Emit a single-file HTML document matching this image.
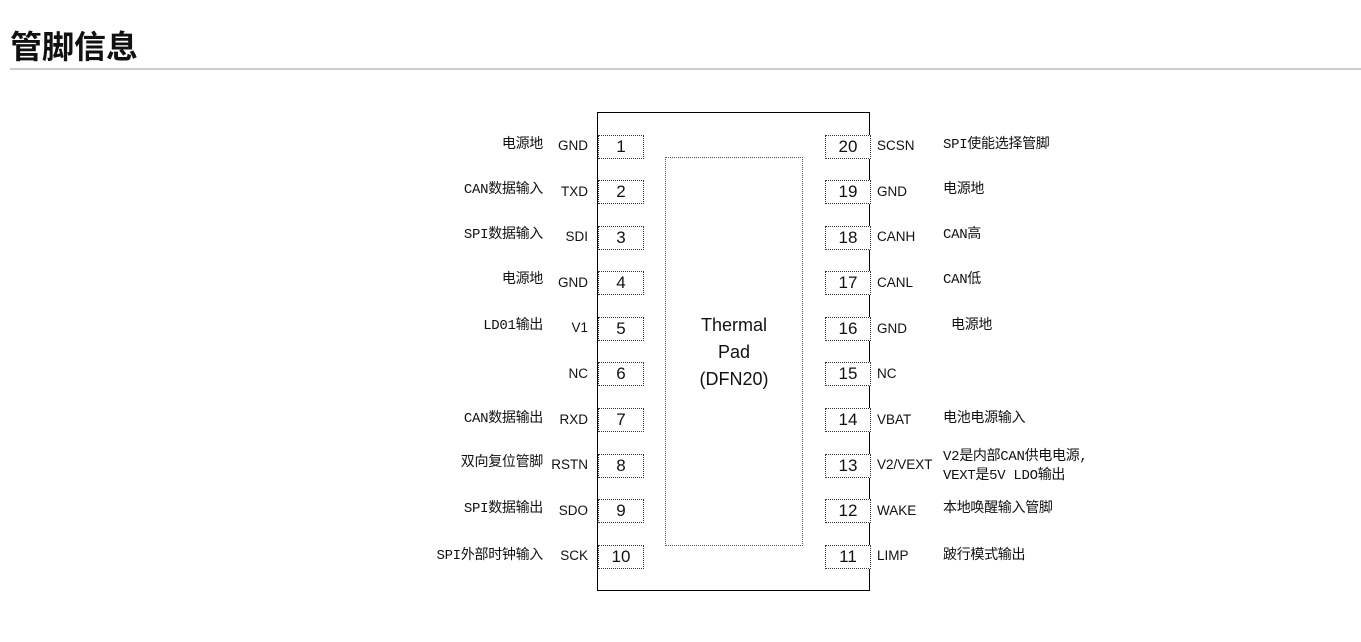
<!DOCTYPE html>
<html><head><meta charset="utf-8"><style>
body{margin:0;width:1361px;height:642px;background:#fff;position:relative;overflow:hidden;font-family:"Liberation Sans","Noto Sans CJK SC",sans-serif;color:#111}
.t{position:absolute;left:10px;top:29px;font-size:32px;font-weight:bold;line-height:36px;font-family:"Liberation Sans","Noto Sans CJK SC",sans-serif}
.hr{position:absolute;left:10px;top:68px;width:1351px;height:2px;background:#ccc}
.chip{position:absolute;left:597px;top:112px;width:271px;height:477px;border:1.5px solid #000}
.pad{position:absolute;left:665px;top:157px;width:136px;height:387px;border:1px dotted #555}
.pt{position:absolute;left:665px;top:312px;width:138px;text-align:center;font-size:18px;line-height:27px}
.b{position:absolute;width:44px;height:22px;border:1px dotted #333;background:#fff;text-align:center;font-size:17px;line-height:22px}
.l{left:598px}.r{left:825px}
.n{position:absolute;font-size:13.5px;line-height:16px;white-space:nowrap}
.d{font-family:"Liberation Mono","Noto Sans CJK SC",monospace;font-size:14px;letter-spacing:-0.3px}
.nl{right:773px;text-align:right}
.dl{right:818px;text-align:right}
.nr{left:877px}.dr{left:943px}
</style></head><body>
<div class="t">管脚信息</div><div class="hr"></div>
<div class="chip"></div><div class="pad"></div>
<div class="pt">Thermal<br>Pad<br>(DFN20)</div>

<div class="b l" style="top:135px">1</div><div class="n nl" style="top:138px">GND</div><div class="n d dl" style="top:137px">电源地</div>
<div class="b l" style="top:180px">2</div><div class="n nl" style="top:184px">TXD</div><div class="n d dl" style="top:182px">CAN数据输入</div>
<div class="b l" style="top:226px">3</div><div class="n nl" style="top:229px">SDI</div><div class="n d dl" style="top:227px">SPI数据输入</div>
<div class="b l" style="top:271px">4</div><div class="n nl" style="top:275px">GND</div><div class="n d dl" style="top:272px">电源地</div>
<div class="b l" style="top:317px">5</div><div class="n nl" style="top:320px">V1</div><div class="n d dl" style="top:318px">LD01输出</div>
<div class="b l" style="top:362px">6</div><div class="n nl" style="top:366px">NC</div>
<div class="b l" style="top:408px">7</div><div class="n nl" style="top:412px">RXD</div><div class="n d dl" style="top:411px">CAN数据输出</div>
<div class="b l" style="top:454px">8</div><div class="n nl" style="top:457px">RSTN</div><div class="n d dl" style="top:455px">双向复位管脚</div>
<div class="b l" style="top:499px">9</div><div class="n nl" style="top:503px">SDO</div><div class="n d dl" style="top:501px">SPI数据输出</div>
<div class="b l" style="top:545px">10</div><div class="n nl" style="top:548px">SCK</div><div class="n d dl" style="top:548px">SPI外部时钟输入</div>

<div class="b r" style="top:135px">20</div><div class="n nr" style="top:138px">SCSN</div><div class="n d dr" style="top:137px">SPI使能选择管脚</div>
<div class="b r" style="top:180px">19</div><div class="n nr" style="top:184px">GND</div><div class="n d dr" style="top:182px">电源地</div>
<div class="b r" style="top:226px">18</div><div class="n nr" style="top:229px">CANH</div><div class="n d dr" style="top:227px">CAN高</div>
<div class="b r" style="top:271px">17</div><div class="n nr" style="top:275px">CANL</div><div class="n d dr" style="top:272px">CAN低</div>
<div class="b r" style="top:317px">16</div><div class="n nr" style="top:321px">GND</div><div class="n d dr" style="top:318px;left:951px">电源地</div>
<div class="b r" style="top:362px">15</div><div class="n nr" style="top:366px">NC</div>
<div class="b r" style="top:408px">14</div><div class="n nr" style="top:412px">VBAT</div><div class="n d dr" style="top:411px">电池电源输入</div>
<div class="b r" style="top:454px">13</div><div class="n nr" style="top:457px">V2/VEXT</div><div class="n d dr" style="top:448px;line-height:19px">V2是内部CAN供电电源,<br>VEXT是5V LDO输出</div>
<div class="b r" style="top:499px">12</div><div class="n nr" style="top:503px">WAKE</div><div class="n d dr" style="top:501px">本地唤醒输入管脚</div>
<div class="b r" style="top:545px">11</div><div class="n nr" style="top:548px">LIMP</div><div class="n d dr" style="top:548px">跛行模式输出</div>
</body></html>
